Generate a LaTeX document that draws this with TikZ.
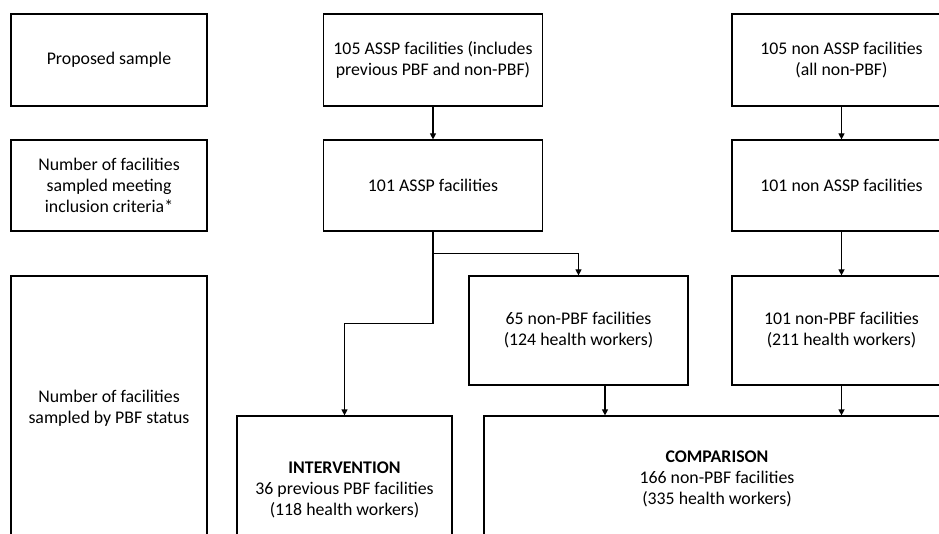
\documentclass[tikz,border=0pt]{standalone}
\usepackage{fontspec}
\setmainfont{Carlito}
\usetikzlibrary{arrows.meta}
\tikzset{
  box/.style={draw=black, line width=1.2pt, rectangle, align=center, inner sep=0pt,
    font=\fontsize{17.8}{21}\selectfont, text=black},
  arr/.style={draw=black, line width=1.2pt, -{Triangle[length=6pt,width=6pt]}},
}
\begin{document}
\begin{tikzpicture}[x=1pt,y=-1pt]
\useasboundingbox (0,0) rectangle (939,534);
\clip (0,0) rectangle (939,534);
% left labels
\node[box, minimum width=196pt, minimum height=92pt] (lab1) at (109,60) {Proposed sample};
\node[box, minimum width=196pt, minimum height=91pt] (lab2) at (109,185.5) {Number of facilities\\sampled meeting\\inclusion criteria*};
\node[box, minimum width=196pt, minimum height=264pt] (lab3) at (109,408) {Number of facilities\\sampled by PBF status};
% ASSP column
\node[box, minimum width=219pt, minimum height=92pt] (a1) at (433,60) {105 ASSP facilities (includes\\previous PBF and non-PBF)};
\node[box, minimum width=219pt, minimum height=91pt] (a2) at (433,185.5) {101 ASSP facilities};
% non ASSP column
\node[box, minimum width=219pt, minimum height=92pt] (n1) at (841.5,60) {105 non ASSP facilities\\(all non-PBF)};
\node[box, minimum width=219pt, minimum height=91pt] (n2) at (841.5,185.5) {101 non ASSP facilities};
% PBF status row
\node[box, minimum width=219pt, minimum height=109pt] (p65) at (578.5,330.5) {65 non-PBF facilities\\(124 health workers)};
\node[box, minimum width=219pt, minimum height=109pt] (p101) at (841.5,330.5) {101 non-PBF facilities\\(211 health workers)};
\node[box, minimum width=215pt, minimum height=148pt] (inter) at (344.5,490) {\textbf{INTERVENTION}\\36 previous PBF facilities\\(118 health workers)};
\node[box, minimum width=466pt, minimum height=126pt] (comp) at (717,479) {\textbf{COMPARISON}\\166 non-PBF facilities\\(335 health workers)};
% connectors
\draw[arr] (a1.south) -- (a2.north);
\draw[arr] (n1.south) -- (n2.north);
\draw[arr] (n2.south) -- (p101.north);
\draw[arr] (a2.south) -- ++(0,22) -| (p65.north);
\draw[arr] (a2.south) -- ++(0,92) -| (inter.north);
\coordinate (c65) at ([xshift=26.5pt]p65.south);
\draw[arr] (c65) -- (c65 |- comp.north);
\draw[arr] (p101.south) -- (p101.south |- comp.north);
\end{tikzpicture}
\end{document}
